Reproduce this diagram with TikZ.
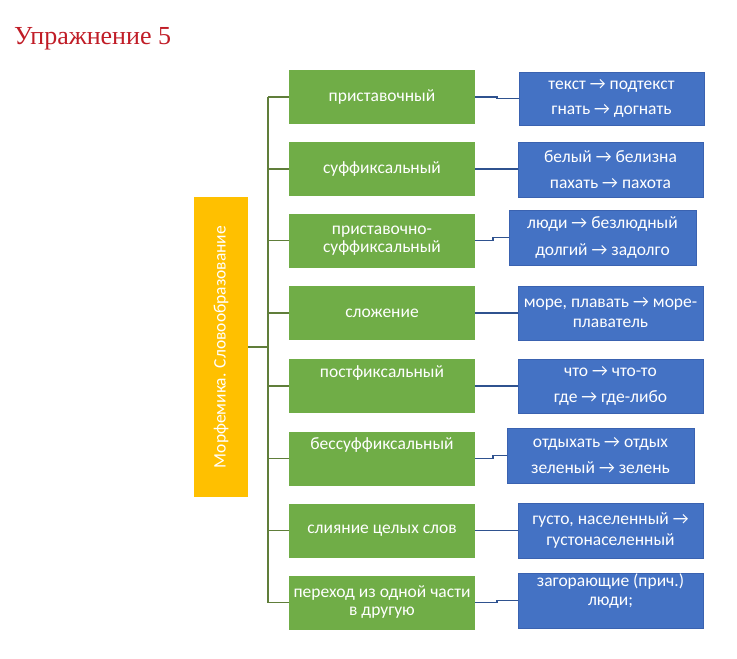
\documentclass[tikz,border=0pt]{standalone}
\usepackage{fontspec}
\setmainfont{Carlito}
\newfontfamily\titlefont{Liberation Serif}
\definecolor{grn}{RGB}{112,173,71}
\definecolor{blu}{RGB}{68,114,196}
\definecolor{bluedge}{RGB}{58,98,176}
\definecolor{yel}{RGB}{255,192,0}
\definecolor{trunkc}{RGB}{96,126,58}
\definecolor{linkc}{RGB}{47,82,143}
\definecolor{titlec}{RGB}{192,28,38}
\begin{document}
\begin{tikzpicture}[x=1pt,y=-1pt,
  greenbox/.style={fill=grn, draw=none, minimum width=186pt, minimum height=54pt,
    inner sep=0pt, text=white, align=center, font=\fontsize{17.5}{21}\selectfont},
  bluebox/.style={fill=blu, draw=bluedge, line width=0.5pt, minimum width=185pt,
    minimum height=54pt, inner sep=0pt, text=white, align=center,
    font=\fontsize{17.5}{21}\selectfont},
  greentext/.style={text=white, inner sep=0pt, font=\fontsize{17.5}{21}\selectfont},
  trunk/.style={draw=trunkc, line width=1.5pt},
  link/.style={draw=linkc, line width=1.5pt}]
\useasboundingbox (0,0) rectangle (737,659);

\node[anchor=base west, inner sep=0pt, text=titlec, font=\titlefont\fontsize{26}{30}\selectfont] (title) at (14,44) {Упражнение 5};

\node[fill=yel, minimum width=54pt, minimum height=300pt, inner sep=0pt] (root) at (221,347) {};
\node[rotate=90, text=white, inner sep=0pt, font=\fontsize{17.5}{21}\selectfont] (roottext) at (root.center) {Морфемика. Словообразование};

\node[greenbox] (g1) at (382,97) {приставочный};
\node[greenbox] (g2) at (382,169) {суффиксальный};
\node[greenbox] (g3) at (382,240.5) {приставочно-\\[-3pt]суффиксальный};
\node[greenbox] (g4) at (382,313) {сложение};
\node[greenbox] (g5) at (382,386) {};
\node[greentext, anchor=base] (g5t) at (382,377) {постфиксальный};
\node[greenbox] (g6) at (382,458.5) {};
\node[greentext, anchor=base] (g6t) at (382,449) {бессуффиксальный};
\node[greenbox] (g7) at (382,530.5) {слияние целых слов};
\node[greenbox] (g8) at (382,602.5) {переход из одной части\\[-3pt]в другую};

\node[bluebox, minimum height=53pt] (b1) at (611.5,98.5) {текст → подтекст\\[4pt]гнать → догнать};
\node[bluebox, minimum height=55pt] (b2) at (610.5,169.5) {белый → белизна\\[5pt]пахать → пахота};
\node[bluebox, minimum width=187pt, minimum height=55pt] (b3) at (602.5,237.5) {люди → безлюдный\\[6pt]долгий → задолго};
\node[bluebox] (b4) at (610.5,313) {море, плавать → море-\\[-1pt]плаватель};
\node[bluebox] (b5) at (610.5,386) {что → что-то\\[5pt]где → где-либо};
\node[bluebox, minimum width=187pt, minimum height=55pt] (b6) at (600.5,455.5) {отдыхать → отдых\\[5pt]зеленый → зелень};
\node[bluebox, minimum height=55pt] (b7) at (610.5,530.5) {густо, населенный →\\[0pt]густонаселенный};
\node[bluebox, minimum height=55pt] (b8) at (610.5,600.5) {загорающие (прич.)\\[-2pt]люди;\\[0pt]};

\coordinate (tr) at (268,347);
\draw[trunk] (root.east) -- (tr);
\draw[trunk] (g1.west -| tr) -- (g8.west -| tr);
\foreach \g in {g1,g2,g3,g4,g5,g6,g7,g8}
  \draw[trunk] (\g.west -| tr) -- (\g.west);

\draw[link] (g1.east) -- ++(22,0) |- (b1.west);
\draw[link] (g2.east) -- (g2.east -| b2.west);
\draw[link] (g3.east) -- ++(18,0) |- (b3.west);
\draw[link] (g4.east) -- (g4.east -| b4.west);
\draw[link] (g5.east) -- (g5.east -| b5.west);
\draw[link] (g6.east) -- ++(18,0) |- (b6.west);
\draw[link] (g7.east) -- (g7.east -| b7.west);
\draw[link] (g8.east) -- ++(22,0) |- (b8.west);
\end{tikzpicture}
\end{document}
